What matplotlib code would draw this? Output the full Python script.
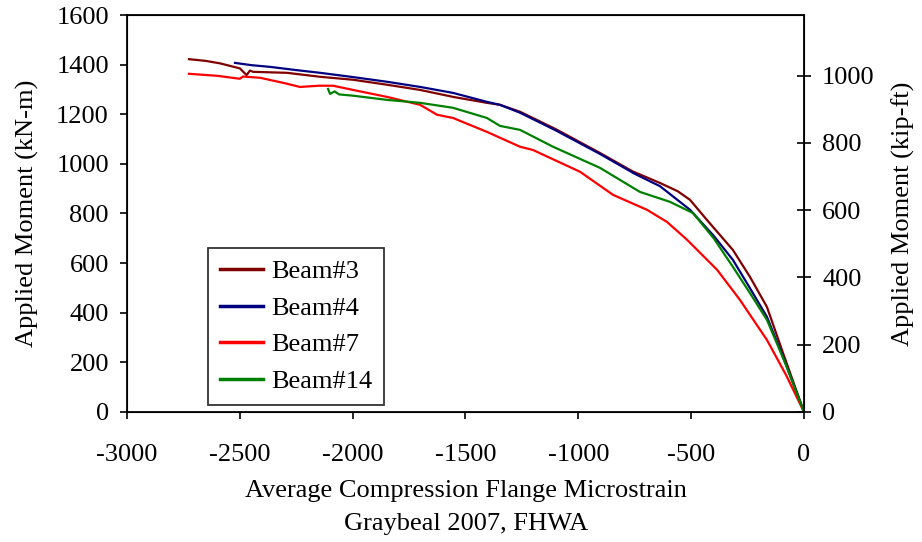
import matplotlib.pyplot as plt

plt.rcParams['font.family'] = ['Liberation Serif', 'DejaVu Serif']
plt.rcParams['axes.unicode_minus'] = False

# microstrain (x) and moment in kN-m (y)
beam3_x = [-2725, -2650, -2587, -2500, -2470, -2455, -2441, -2291, -2144, -1998, -1848, -1701,
           -1555, -1405, -1347, -1258, -1100, -904, -760, -638, -560, -505, -430, -315,
           -239, -164, -93, 0]
beam3_y = [1422, 1415, 1405, 1385, 1358, 1376, 1371, 1367, 1351, 1339, 1319, 1298,
           1270, 1246, 1238, 1210, 1140, 1044, 970, 923, 890, 855, 774, 653,
           544, 423, 238, 0]

beam4_x = [-2521, -2450, -2366, -2250, -2144, -2000, -1848, -1700, -1555, -1405, -1347, -1258,
           -1100, -904, -750, -638, -505, -400, -315, -240, -164, -90, 0]
beam4_y = [1407, 1398, 1391, 1378, 1367, 1350, 1331, 1310, 1286, 1250, 1238, 1206,
           1135, 1040, 960, 910, 815, 710, 613, 500, 383, 215, 0]

beam7_x = [-2725, -2600, -2500, -2486, -2410, -2300, -2233, -2150, -2087, -1998, -1848, -1701,
           -1626, -1555, -1405, -1258, -1201, -992, -846, -696, -607, -518, -385, -284,
           -164, -80, 0]
beam7_y = [1363, 1355, 1343, 1352, 1347, 1325, 1310, 1315, 1315, 1298, 1270, 1238,
           1198, 1185, 1129, 1069, 1056, 968, 875, 815, 766, 694, 573, 452,
           290, 150, 0]

beam14_x = [-2109, -2100, -2080, -2060, -2000, -1848, -1701, -1555, -1405, -1347, -1258, -1112,
            -904, -727, -594, -492, -400, -315, -240, -164, -80, 0]
beam14_y = [1302, 1282, 1292, 1280, 1275, 1258, 1246, 1226, 1185, 1153, 1137, 1069,
            984, 887, 847, 802, 700, 585, 480, 371, 190, 0]

labels = ['Beam#3', 'Beam#4', 'Beam#7', 'Beam#14']
colors = ['#800000', '#000080', '#ff0000', '#008000']

KNM_PER_KIPFT = 1.3558
FS = 19

fig = plt.figure(figsize=(9.22, 5.42), dpi=100)
ax = fig.add_axes([0.1377, 0.2399, 0.7343, 0.7324])

series = [(beam3_x, beam3_y), (beam4_x, beam4_y), (beam7_x, beam7_y), (beam14_x, beam14_y)]
for (xs, ys), lab, c in zip(series, labels, colors):
    ax.plot(xs, ys, color=c, lw=1.6, label=lab)

ax.set_xlim(-3000, 0)
ax.set_ylim(0, 1600)
ax.set_xticks(range(-3000, 1, 500))
ax.set_yticks(range(0, 1601, 200))
ax.tick_params(labelsize=FS, direction='out', length=5, width=1.2, colors='black')
ax.tick_params(axis='x', pad=18)
ax.tick_params(axis='y', pad=8)
for s in ax.spines.values():
    s.set_linewidth(1.3)

ax.set_xlabel('Average Compression Flange Microstrain', fontsize=FS, labelpad=10)
ax.set_ylabel('Applied Moment (kN-m)', fontsize=FS, labelpad=12)

ax2 = ax.twinx()
ax2.set_ylim(0, 1600 / KNM_PER_KIPFT)
ax2.set_yticks(range(0, 1001, 200))
ax2.tick_params(labelsize=FS, direction='inout', length=10, width=1.2, pad=8)
ax2.set_ylabel('Applied Moment (kip-ft)', fontsize=FS, labelpad=12)

leg = ax.legend(loc='lower left', bbox_to_anchor=(0.1196, 0.0176), borderaxespad=0,
                fontsize=FS, frameon=True, fancybox=False, edgecolor='black',
                handlelength=1.65, borderpad=0.45, labelspacing=0.5, handletextpad=0.3)
leg.get_frame().set_linewidth(1.3)
for h in leg.get_lines():
    h.set_linewidth(2.5)

fig.text(0.505, 0.033, 'Graybeal 2007, FHWA', ha='center', va='center', fontsize=FS)

fig.savefig('out.png', dpi=100)
